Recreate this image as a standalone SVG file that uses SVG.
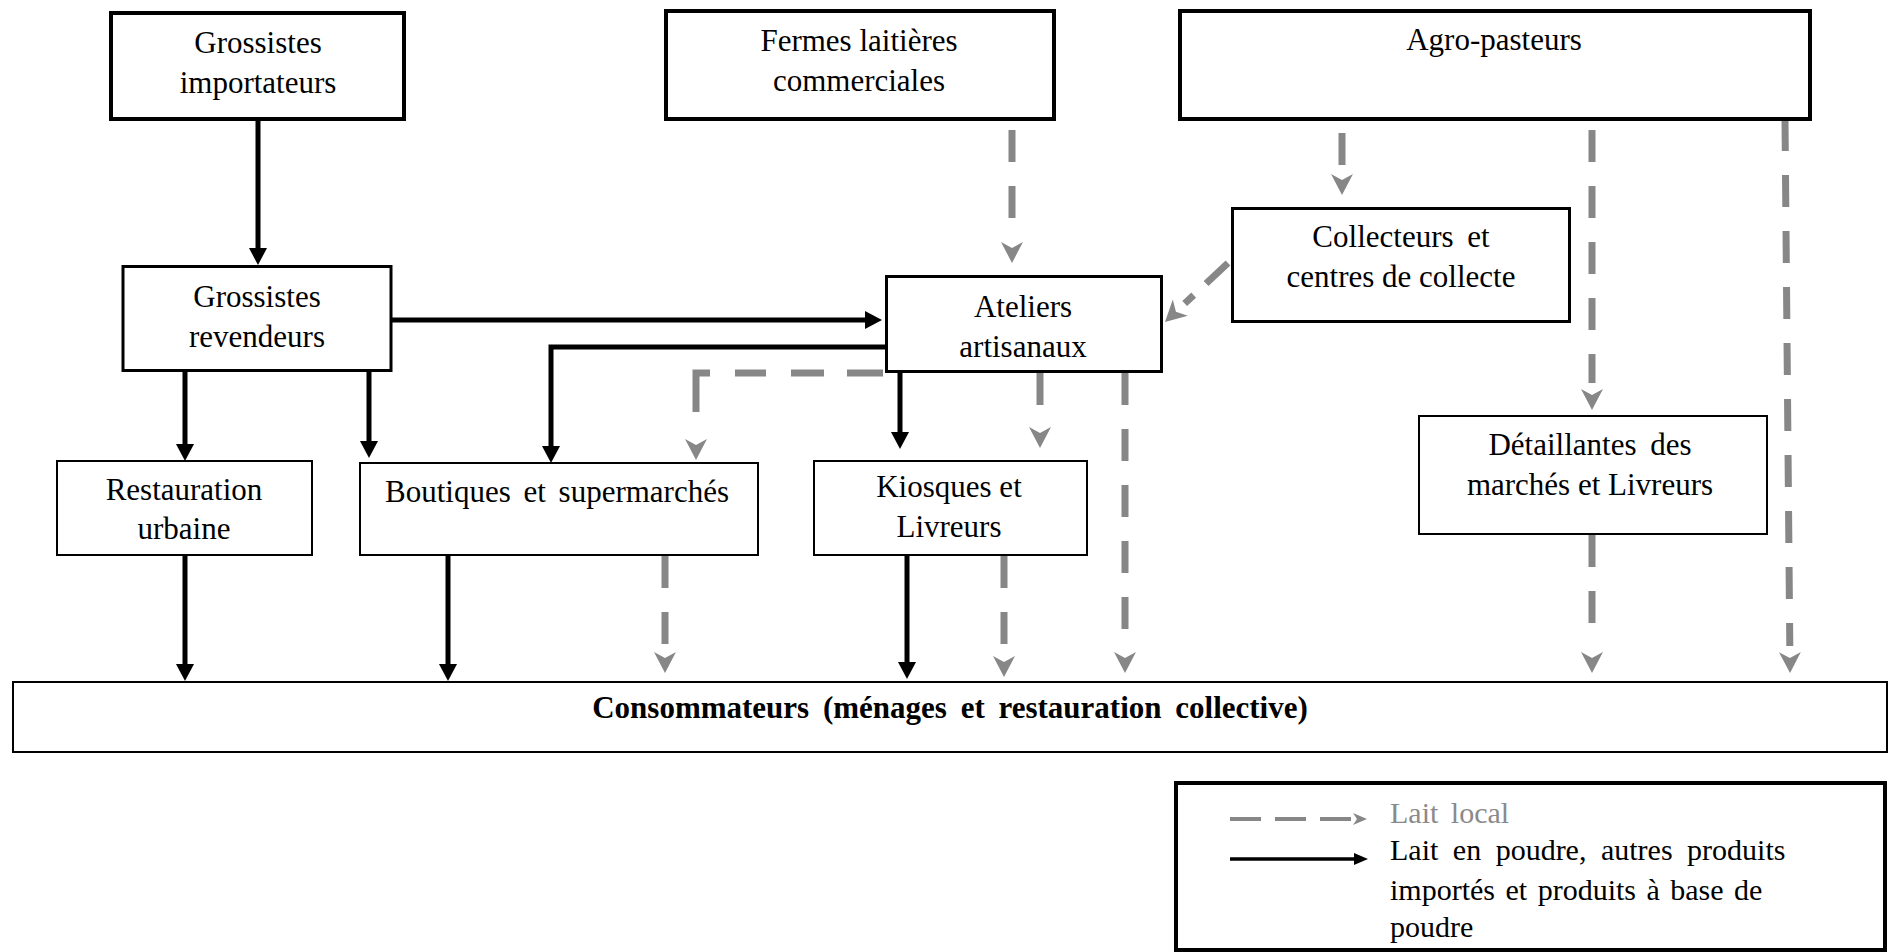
<svg xmlns="http://www.w3.org/2000/svg" width="1894" height="952" viewBox="0 0 1894 952">
  <style>
    .box { fill: #ffffff; stroke: #000000; }
    .b4 { stroke-width: 4; }
    .b3 { stroke-width: 3; }
    .b2 { stroke-width: 2; }
    .t { font-family: "Liberation Serif", "Times New Roman", serif; font-size: 31px; fill: #000000; text-anchor: middle; }
    .tb { font-weight: bold; }
    .lg { font-family: "Liberation Serif", "Times New Roman", serif; font-size: 30px; fill: #000000; word-spacing: 3px; }
    .lg-gray { fill: #8a8a8a; }
    .solid { fill: none; stroke: #000000; stroke-width: 5; marker-end: url(#arrowBlack); }
    .dash { fill: none; stroke: #878787; stroke-width: 7; stroke-dasharray: 32 24; marker-end: url(#arrowGray); }
  </style>
  <defs>
    <marker id="arrowBlack" markerUnits="userSpaceOnUse" viewBox="0 0 17 18" markerWidth="17" markerHeight="18" refX="5" refY="9" orient="auto">
      <path d="M0,0 L17,9 L0,18 z" fill="#000000"/>
    </marker>
    <marker id="arrowGray" markerUnits="userSpaceOnUse" viewBox="0 0 27 22" markerWidth="27" markerHeight="22" refX="0" refY="11" orient="auto">
      <path d="M6,0 L27,11 L6,22 L12,11 z" fill="#878787"/>
    </marker>
    <marker id="arrowBlackSmall" markerUnits="userSpaceOnUse" viewBox="0 0 14 12" markerWidth="14" markerHeight="12" refX="2" refY="6" orient="auto">
      <path d="M0,0 L14,6 L0,12 z" fill="#000000"/>
    </marker>
    <marker id="arrowGraySmall" markerUnits="userSpaceOnUse" viewBox="0 0 15 12" markerWidth="15" markerHeight="12" refX="0" refY="6" orient="auto">
      <path d="M1,0 L15,6 L1,12 L5,6 z" fill="#878787"/>
    </marker>
  </defs>

  <rect width="1894" height="952" fill="#ffffff"/>

  <g id="connectors">
    <!-- black: imported powder flows -->
    <path class="solid" d="M258,121 V253"/>
    <path class="solid" d="M392,320 H870"/>
    <path class="solid" d="M885,347 H551 V451"/>
    <path class="solid" d="M185,372 V449"/>
    <path class="solid" d="M369,372 V446"/>
    <path class="solid" d="M900,373 V437"/>
    <path class="solid" d="M185,556 V669"/>
    <path class="solid" d="M448,556 V669"/>
    <path class="solid" d="M907,556 V667"/>
    <!-- gray dashed: local milk flows -->
    <path class="dash" d="M1012,130 V236"/>
    <path class="dash" d="M1342,133 V168"/>
    <path class="dash" d="M1592,130 V383"/>
    <path class="dash" d="M1785,119 L1789.8,646"/>
    <path class="dash" d="M1228,263 L1184.7,303.5" style="stroke-dasharray: 30 17 20"/>
    <path class="dash" d="M883,373 H696 V433" style="stroke-dasharray: 36 23 33 25 31 25 53 100"/>
    <path class="dash" d="M1040,373 V421"/>
    <path class="dash" d="M1125,373 V646"/>
    <path class="dash" d="M665,556 V646"/>
    <path class="dash" d="M1004,556 V650"/>
    <path class="dash" d="M1592,535 V646"/>
  </g>

  <g id="node-grossistes-importateurs">
    <rect class="box b4" x="111" y="13" width="293" height="106"/>
    <text class="t" x="258" y="53">Grossistes</text>
    <text class="t" x="258" y="93">importateurs</text>
  </g>
  <g id="node-fermes">
    <rect class="box b4" x="666" y="11" width="388" height="108"/>
    <text class="t" x="859" y="51">Fermes laitières</text>
    <text class="t" x="859" y="91">commerciales</text>
  </g>
  <g id="node-agro-pasteurs">
    <rect class="box b4" x="1180" y="11" width="630" height="108"/>
    <text class="t" x="1494" y="50">Agro-pasteurs</text>
  </g>
  <g id="node-grossistes-revendeurs">
    <rect class="box b3" x="123" y="266.5" width="268" height="104"/>
    <text class="t" x="257" y="307">Grossistes</text>
    <text class="t" x="257" y="347">revendeurs</text>
  </g>
  <g id="node-ateliers">
    <rect class="box b3" x="886.5" y="276.5" width="275" height="95"/>
    <text class="t" x="1023" y="317">Ateliers</text>
    <text class="t" x="1023" y="357">artisanaux</text>
  </g>
  <g id="node-collecteurs">
    <rect class="box b3" x="1232.5" y="208.5" width="337" height="113"/>
    <text class="t" x="1401" y="247" style="word-spacing: 6px">Collecteurs et</text>
    <text class="t" x="1401" y="287">centres de collecte</text>
  </g>
  <g id="node-restauration">
    <rect class="box b2" x="57" y="461" width="255" height="94"/>
    <text class="t" x="184" y="500">Restauration</text>
    <text class="t" x="184" y="539">urbaine</text>
  </g>
  <g id="node-boutiques">
    <rect class="box b2" x="360" y="463" width="398" height="92"/>
    <text class="t" x="557" y="502" style="word-spacing: 5px">Boutiques et supermarchés</text>
  </g>
  <g id="node-kiosques">
    <rect class="box b2" x="814" y="461" width="273" height="94"/>
    <text class="t" x="949" y="497">Kiosques et</text>
    <text class="t" x="949" y="537">Livreurs</text>
  </g>
  <g id="node-detaillantes">
    <rect class="box b2" x="1419" y="416" width="348" height="118"/>
    <text class="t" x="1590" y="455" style="word-spacing: 6px">Détaillantes des</text>
    <text class="t" x="1590" y="495">marchés et Livreurs</text>
  </g>
  <g id="node-consommateurs">
    <rect class="box b2" x="13" y="682" width="1874" height="70"/>
    <text class="t tb" x="950" y="718" style="word-spacing: 6px">Consommateurs (ménages et restauration collective)</text>
  </g>

  <g id="legend">
    <rect class="box b4" x="1176" y="783" width="709" height="167"/>
    <path d="M1230,819 H1352" fill="none" stroke="#878787" stroke-width="4" stroke-dasharray="31 14" marker-end="url(#arrowGraySmall)"/>
    <path d="M1230,859 H1356" fill="none" stroke="#000000" stroke-width="3.5" marker-end="url(#arrowBlackSmall)"/>
    <text class="lg lg-gray" x="1390" y="823" style="word-spacing: 5px">Lait local</text>
    <text class="lg" x="1390" y="860" style="word-spacing: 7px">Lait en poudre, autres produits</text>
    <text class="lg" x="1390" y="900">importés et produits à base de</text>
    <text class="lg" x="1390" y="937">poudre</text>
  </g>
</svg>
